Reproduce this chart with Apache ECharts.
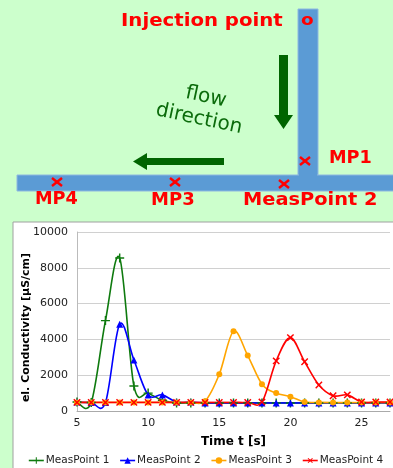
<!DOCTYPE html>
<html><head><meta charset="utf-8">
<script src="https://cdn.jsdelivr.net/npm/echarts@6/dist/echarts.min.js"></script>
<style>html,body{margin:0;padding:0;background:#ccffcc;}#c{width:393px;height:468px;}</style>
</head><body><div id="c"></div>
<script>
var times = [5,6,7,8,9,10,11,12,13,14,15,16,17,18,19,20,21,22,23,24,25,26,27];
var mp1 = [500,470,5050,8550,1400,1000,600,450,450,450,450,450,450,450,450,450,450,450,450,450,450,450,450];
var mp2 = [500,470,470,4850,2850,900,900,500,500,450,450,450,450,450,450,450,450,450,450,450,450,450,450];
var mp3 = [480,480,480,480,480,480,480,480,480,550,2050,4450,3100,1500,1000,800,500,480,470,470,470,470,470];
var mp4 = [480,480,480,480,480,480,480,480,480,480,480,480,480,500,2800,4100,2750,1450,850,900,500,500,500];
var seriesNames = ['MeasPoint 1','MeasPoint 2','MeasPoint 3','MeasPoint 4'];
var yTicks = [0,2000,4000,6000,8000,10000];
var xTicks = [5,10,15,20,25];

function pairs(v){ return times.map(function(t,i){ return [t, v[i]]; }); }
var plus = 'path://M4.2,0H5.8V4.2H10V5.8H5.8V10H4.2V5.8H0V4.2H4.2Z';
var red = '#ff0000', dg = '#0b6b0b';
function xmark(cx, cy){
  return [
    {type:'line', shape:{x1:cx-5,y1:cy-4,x2:cx+5,y2:cy+4}, style:{stroke:red,lineWidth:2.5}},
    {type:'line', shape:{x1:cx-5,y1:cy+4,x2:cx+5,y2:cy-4}, style:{stroke:red,lineWidth:2.5}}
  ];
}
var lbl = function(txt,x,y,size,sx){ return {type:'text', x:x, y:y, scaleX:sx||1, style:{text:txt, fill:red, font:'bold '+size+'px "DejaVu Sans"', textVerticalAlign:'middle'}}; };
var graphics = [
  {type:'rect', shape:{x:298,y:9,width:20,height:170}, style:{fill:'#5b9bd5', stroke:'#8fb8e0', lineWidth:1}},
  {type:'rect', shape:{x:17,y:175,width:380,height:16}, style:{fill:'#5b9bd5', stroke:'#8fb8e0', lineWidth:1}},
  {type:'rect', shape:{x:299,y:170,width:18,height:10}, style:{fill:'#5b9bd5'}},
  lbl('Injection point',121,22,17,1.16),
  lbl('o',301,21,16,1.15),
  lbl('MP1',329,159,17,1.04),
  lbl('MP4',35,200,17,1.04),
  lbl('MP3',151,201,17,1.06),
  lbl('MeasPoint 2',243,201,17,1.14),
  {type:'polygon', shape:{points:[[279,55],[288,55],[288,115],[293,115],[283.5,129],[274,115],[279,115]]}, style:{fill:'#006400'}},
  {type:'polygon', shape:{points:[[224,158],[224,165],[147,165],[147,170],[133,161.5],[147,153],[147,158]]}, style:{fill:'#006400'}},
  {type:'text', x:206, y:97, rotation:-0.21, style:{text:'flow', fill:dg, font:'20px "DejaVu Sans"', textAlign:'center', textVerticalAlign:'middle'}},
  {type:'text', x:199, y:119, rotation:-0.21, style:{text:'direction', fill:dg, font:'20px "DejaVu Sans"', textAlign:'center', textVerticalAlign:'middle'}},
  {type:'rect', z:-10, shape:{x:13,y:222,width:400,height:260}, style:{fill:'#ffffff', stroke:'#a0a0a0', lineWidth:1}}
].concat(xmark(305,161), xmark(284,184), xmark(175,182), xmark(57,182));

var colors = ['#0e7a0e','#0000ff','#ffa500','#ff0000'];
var allVals = [mp1, mp2, mp3, mp4];

// smooth curve segment (Catmull-Rom style) computed with the chart's own coordinate system
function curve(vals, color){
  return {type:'custom', data:pairs(vals), z:2, silent:true,
    renderItem:function(params, api){
      var i = params.dataIndex, n = vals.length;
      if (i >= n-1) return null;
      function P(j){ j = Math.max(0, Math.min(n-1, j)); return api.coord([times[j], vals[j]]); }
      var p0=P(i-1), p1=P(i), p2=P(i+1), p3=P(i+2);
      var t = 6;
      return {type:'bezierCurve', shape:{x1:p1[0],y1:p1[1],x2:p2[0],y2:p2[1],
        cpx1:p1[0]+(p2[0]-p0[0])/t, cpy1:p1[1]+(p2[1]-p0[1])/t,
        cpx2:p2[0]-(p3[0]-p1[0])/t, cpy2:p2[1]-(p3[1]-p1[1])/t},
        style:{stroke:color, fill:null, lineWidth:1.6}};
    }};
}
function mk(name, data, color, symbol, size, rot){
  return {name:name, type:'line', data:pairs(data), symbol:symbol, symbolSize:size, symbolRotate:rot||0,
    lineStyle:{color:color,width:0}, itemStyle:{color:color}, showSymbol:true, z:3};
}
var symbols = [[plus,9,0],['triangle',7,0],['circle',6,0],[plus,9,45]];
var series = [];
allVals.forEach(function(v,k){ series.push(curve(v, colors[k])); });
allVals.forEach(function(v,k){ series.push(mk(seriesNames[k], v, colors[k], symbols[k][0], symbols[k][1], symbols[k][2])); });

var chart = echarts.init(document.getElementById('c'));
chart.setOption({
  animation:false,
  backgroundColor:'#ccffcc',
  textStyle:{fontFamily:'DejaVu Sans'},
  graphic:{elements:graphics},
  grid:{left:77, right:0, top:232, bottom:57, containLabel:false},
  xAxis:{type:'value', min:5, max:27, interval:5, name:'Time t [s]', nameLocation:'middle', nameGap:25, nameMoveOverlap:false,
    nameTextStyle:{fontWeight:'bold', fontSize:12, color:'#000'},
    axisLine:{lineStyle:{color:'#aaaaaa'}}, axisTick:{show:false}, splitLine:{show:false},
    axisLabel:{fontSize:11, color:'#222', margin:7, formatter:function(v){ return xTicks.indexOf(v)>=0 ? v : ''; }}},
  yAxis:{type:'value', min:0, max:10000, interval:2000, name:'el. Conductivity [µS/cm]', nameLocation:'middle', nameGap:45, nameMoveOverlap:false,
    nameTextStyle:{fontWeight:'bold', fontSize:11, color:'#000', padding:[0,12,0,0]},
    axisLine:{show:true, lineStyle:{color:'#bbbbbb'}}, axisTick:{show:false},
    splitLine:{lineStyle:{color:'#d0d0d0'}},
    axisLabel:{fontSize:11, color:'#222', margin:9, formatter:function(v){ return yTicks.indexOf(v)>=0 ? v : ''; }}},
  legend:{bottom:0, left:28, right:0, padding:[0,0,2,0], itemGap:10, itemWidth:15, itemHeight:8,
    textStyle:{fontSize:10.5, color:'#222', padding:[0,0,0,-3]},
    data:seriesNames.map(function(n,k){ return {name:n, lineStyle:{color:colors[k], width:1.6}}; })},
  series:series
});
</script></body></html>
